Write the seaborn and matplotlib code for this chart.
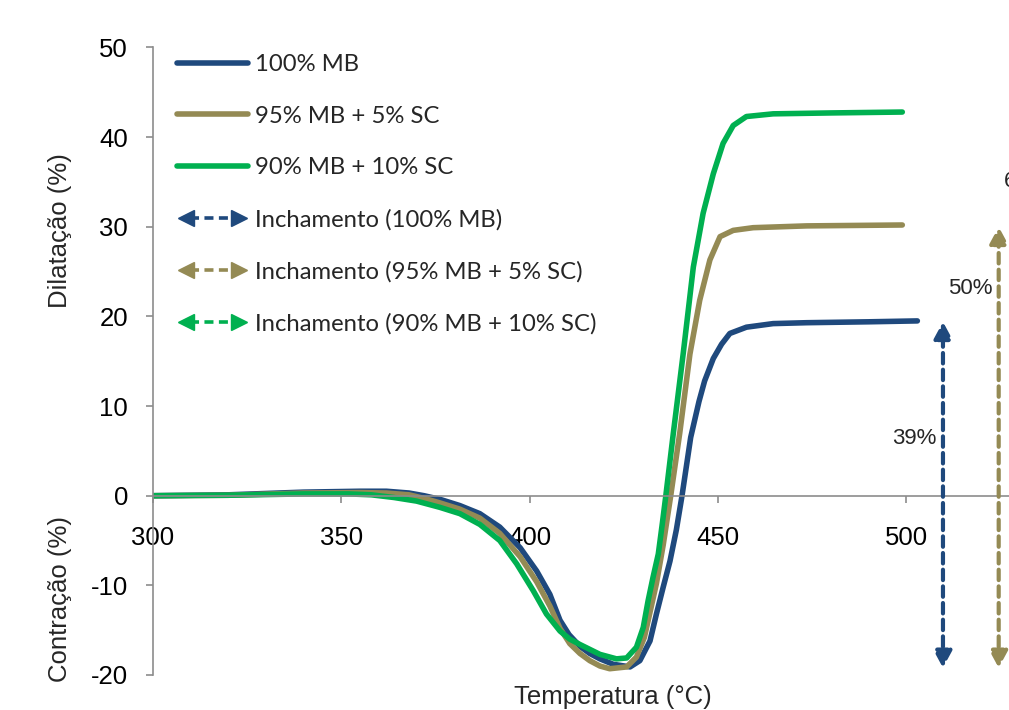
import matplotlib
matplotlib.use('Agg')
import matplotlib.pyplot as plt
from matplotlib.lines import Line2D
from matplotlib.legend_handler import HandlerBase
import pandas as pd
import seaborn as sns

# dilatometric curves: temperature (C) / dilatation (%)
t_mb = [300, 320, 340, 355, 362, 368, 372, 376.2, 381.5, 386.8, 392.1, 397.5, 401.9, 405.4,
        408.1, 410.5, 413.4, 416, 418.7, 422.2, 426.7, 429.3, 432, 433.7, 435.5, 437.3, 439,
        440.5, 442.8, 445, 446.5, 448.8, 451, 453.2, 457.6, 464.7, 473.6, 490, 503]
d_mb = [0, 0.1, 0.4, 0.5, 0.5, 0.3, 0.0, -0.4, -1.1, -2.0, -3.5, -5.8, -8.4, -11.0,
        -13.9, -15.5, -16.8, -17.6, -18.2, -18.8, -19.1, -18.4, -16.2, -13.2, -10.2, -7.3, -3.8,
        0, 6.5, 10.5, 12.8, 15.3, 16.9, 18.1, 18.8, 19.2, 19.3, 19.4, 19.5]

t_5sc = [300, 320, 340, 355, 362, 368, 372, 376.2, 381.5, 386.8, 392.1, 397.5, 401.9, 405.4,
         408.1, 410.7, 413.4, 416, 418.7, 421.3, 425.8, 428.4, 430.5, 432, 433.7, 435.5, 437.5,
         439.9, 442.6, 445.2, 447.9, 450.6, 454.1, 459.4, 473.6, 499]
d_5sc = [0, 0.05, 0.3, 0.35, 0.3, 0.1, -0.3, -0.8, -1.5, -2.5, -4.2, -6.8, -9.6, -12.3,
         -14.8, -16.5, -17.6, -18.4, -19.0, -19.3, -19.1, -18.0, -15.8, -13.0, -9.8, -5.5, 0,
         7.0, 15.8, 21.8, 26.3, 28.9, 29.6, 29.9, 30.1, 30.2]

t_10sc = [300, 320, 340, 352, 358, 364, 370, 376.2, 381.5, 386.8, 392.1, 396.6, 401, 404.5,
          408.1, 410.7, 413.4, 418.7, 423.1, 425.8, 428.4, 430.2, 431.5, 432.8, 434.2, 435.3,
          436.2, 438.2, 440.8, 443.5, 446.1, 448.8, 451.4, 454.1, 457.6, 464.7, 480, 499]
d_10sc = [0, 0.05, 0.2, 0.2, 0.1, -0.2, -0.6, -1.3, -2.0, -3.2, -5.0, -7.6, -10.6, -13.2,
          -15.1, -16.0, -16.6, -17.7, -18.2, -18.1, -16.9, -14.7, -11.7, -9.1, -6.5, -3.0,
          0, 7.0, 15.8, 25.5, 31.5, 35.9, 39.3, 41.3, 42.3, 42.6, 42.7, 42.8]

names = ['100% MB', '95% MB + 5% SC', '90% MB + 10% SC']
colors = ['#1F497D', '#948A54', '#00B050']

# swelling arrows
arrow_x = [509.8, 524.6, 539.5]
arrow_top = [19.4, 30.0, 42.8]
arrow_bottom = -19.2
arrow_labels = ['39%', '50%', '61%']
label_y = [6.4, 23.1, 35.0]

df = pd.concat([
    pd.DataFrame({'T': t_mb, 'D': d_mb, 'serie': names[0]}),
    pd.DataFrame({'T': t_5sc, 'D': d_5sc, 'serie': names[1]}),
    pd.DataFrame({'T': t_10sc, 'D': d_10sc, 'serie': names[2]}),
])

sns.set_style('white')
plt.rcParams['font.family'] = ['Liberation Sans', 'DejaVu Sans']
plt.rcParams['axes.unicode_minus'] = False

fig = plt.figure(figsize=(10.09, 7.10), dpi=100)
ax = fig.add_axes([0.1516, 0.0493, 0.9703, 0.8838])

sns.lineplot(data=df, x='T', y='D', hue='serie', hue_order=names, palette=colors,
             lw=4, estimator=None, sort=False, legend=False, ax=ax)

ax.set_xlim(300, 560)
ax.set_ylim(-20, 50)
ax.set_xticks([300, 350, 400, 450, 500])
ax.set_yticks(range(-20, 51, 10))
ax.set_xlabel('')
ax.set_ylabel('')

for s in ['top', 'right']:
    ax.spines[s].set_visible(False)
ax.spines['bottom'].set_position(('data', 0))
for s in ['left', 'bottom']:
    ax.spines[s].set_color('#8c8c8c')
    ax.spines[s].set_linewidth(1.2)
ax.tick_params(axis='both', which='both', direction='out', length=5, width=1.2,
               color='#8c8c8c', labelsize=18.5, labelcolor='black')
ax.tick_params(axis='x', pad=17, bottom=True)
ax.tick_params(axis='y', pad=13, left=True)

# arrows
for x, top, lab, ly, c in zip(arrow_x, arrow_top, arrow_labels, label_y, colors):
    ax.annotate('', xy=(x, top), xytext=(x, arrow_bottom),
                arrowprops=dict(arrowstyle='<|-|>,head_length=0.5,head_width=0.27',
                                mutation_scale=20, color=c, lw=3,
                                linestyle=(0, (2.5, 1.5)), shrinkA=0, shrinkB=0),
                annotation_clip=False)
    ax.text(x - 1.6, ly, lab, ha='right', va='center', fontsize=16)

ax.text(0.0597, 0.675, 'Dilatação (%)', transform=fig.transFigure, rotation=90,
        ha='center', va='center', fontsize=18.5)
ax.text(0.0597, 0.156, 'Contração (%)', transform=fig.transFigure, rotation=90,
        ha='center', va='center', fontsize=18.5)
ax.text(0.6075, 0.018, 'Temperatura (°C)', transform=fig.transFigure,
        ha='center', va='center', fontsize=18.5)


class ArrowKey:
    def __init__(self, color):
        self.color = color


class DoubleArrow(HandlerBase):
    def create_artists(self, legend, orig_handle, xdescent, ydescent, width, height,
                       fontsize, trans):
        c = orig_handle.color
        y = height / 2 - ydescent
        x0, x1 = -xdescent + 2, width - xdescent - 2
        ln = Line2D([x0 + 8, x1 - 8], [y, y], color=c, lw=2.6, ls=(0, (2.5, 1.5)), transform=trans)
        lh = Line2D([x0 + 5], [y], marker='<', color=c, ms=11, ls='', transform=trans)
        rh = Line2D([x1 - 5], [y], marker='>', color=c, ms=11, ls='', transform=trans)
        return [ln, lh, rh]


handles = [Line2D([], [], color=c, lw=4) for c in colors]
handles += [ArrowKey(c) for c in colors]
labels = names + ['Inchamento (' + n + ')' for n in names]

leg = ax.legend(handles, labels, loc='upper left', bbox_to_anchor=(0.175, 0.924),
                bbox_transform=fig.transFigure, frameon=False, handlelength=3.0,
                handletextpad=0.3, labelspacing=1.28, borderaxespad=0, borderpad=0,
                handler_map={ArrowKey: DoubleArrow()},
                prop={'family': 'Lato', 'size': 17.2})

fig.savefig('out.png', dpi=100)
